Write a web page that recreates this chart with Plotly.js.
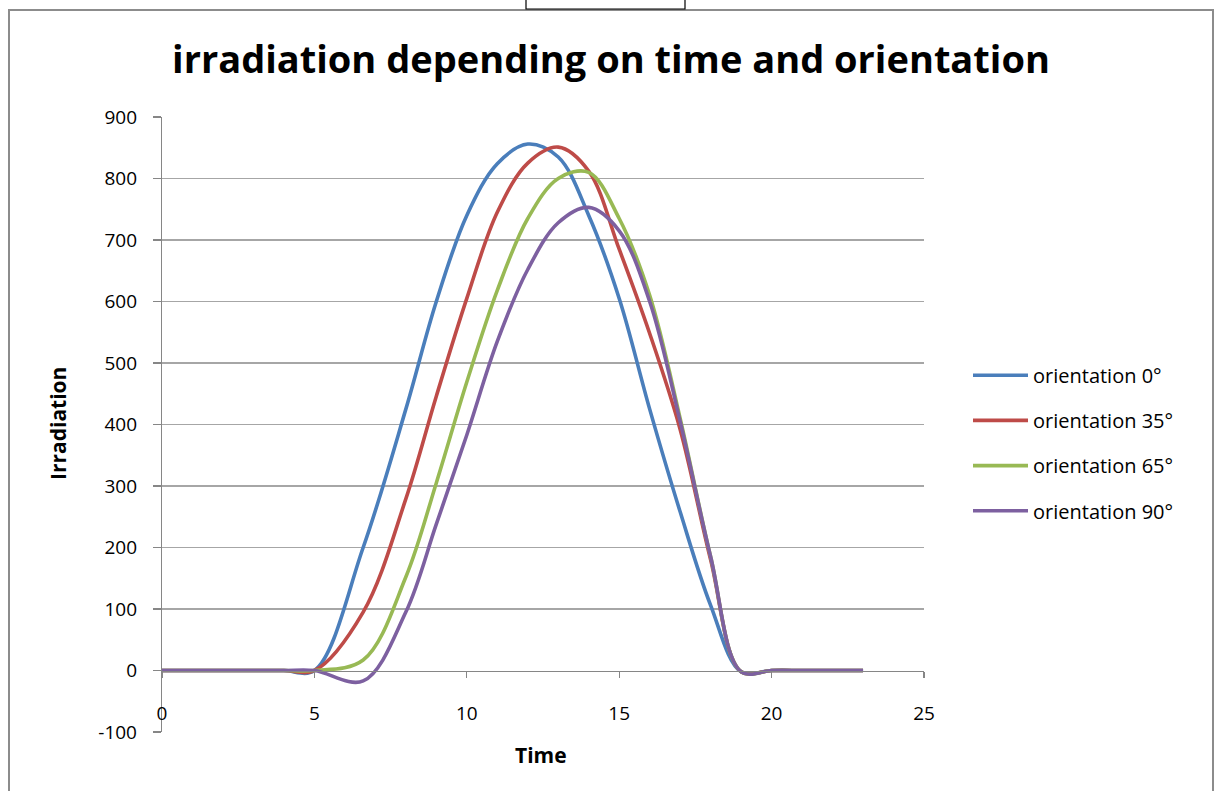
<!DOCTYPE html>
<html>
<head>
<meta charset="utf-8">
<script src="https://cdn.plot.ly/plotly-3.0.1.min.js"></script>
<style>html,body{margin:0;padding:0;background:#fff;}#chart{width:1215px;height:791px;}</style>
</head>
<body>
<div id="chart"></div>
<script>
// Time (hours) and irradiation for each orientation
const hours = [0, 1, 2, 3, 4, 5, 6.6, 8, 9, 10, 11, 12, 13, 14, 15, 16, 17, 18, 19, 20, 21, 22, 23];
const orient0  = [0, 0, 0, 0, 0, 0, 200, 425, 600, 740, 824, 856, 835, 740, 605, 425, 258, 106, -2, 0, 0, 0, 0];
const orient35 = [0, 0, 0, 0, 0, 0,  95, 279, 446, 605, 745, 825, 851, 812, 685, 548, 392, 180, -2, 0, 0, 0, 0];
const orient65 = [0, 0, 0, 0, 0, 0,  17, 152, 305, 469, 618, 735, 800, 810, 735, 610, 410, 185, -2, 0, 0, 0, 0];
const orient90 = [0, 0, 0, 0, 0, 0, -17,  95, 238, 383, 535, 652, 728, 753, 715, 600, 405, 185, -2, 0, 0, 0, 0];
const seriesNames = ["orientation 0°", "orientation 35°", "orientation 65°", "orientation 90°"];
const seriesColors = ["#4A7EBB", "#BE4B48", "#98B954", "#7D60A0"];
const yTicks = [-100, 0, 100, 200, 300, 400, 500, 600, 700, 800, 900];
const gridTicks = [100, 200, 300, 400, 500, 600, 700, 800, 900];
const xTicks = [0, 5, 10, 15, 20, 25];

const W = 1215, H = 791;
const M = {l: 162, r: 291, t: 117, b: 59};
const pw = W - M.l - M.r, ph = H - M.t - M.b;
const px = v => (v - M.l) / pw;
const py = v => (H - M.b - v) / ph;

const FONT = "Open Sans, Noto Sans, sans-serif";
const allSeries = [orient0, orient35, orient65, orient90];
const traces = allSeries.map((ys, i) => ({
  type: "scatter", mode: "lines",
  x: hours, y: ys, name: seriesNames[i],
  legendgroup: "g" + i,
  line: {color: seriesColors[i], width: 3.6, shape: "spline", smoothing: 1},
  hoverinfo: "skip"
}));
// invisible trace to activate grid axis
traces.push({type: "scatter", x: [0], y: [0], yaxis: "y2", mode: "markers",
  marker: {opacity: 0}, showlegend: false, hoverinfo: "skip"});

const layout = {
  width: W, height: H,
  margin: M,
  paper_bgcolor: "#ffffff", plot_bgcolor: "#ffffff",
  showlegend: true,
  title: {
    text: "<b>irradiation depending on time and orientation</b>",
    font: {family: FONT, size: 38, color: "#000000"},
    x: 611 / W, xanchor: "center", xref: "container",
    y: 1 - 60 / H, yanchor: "middle", yref: "container"
  },
  xaxis: {
    range: [0, 25], tickvals: xTicks, ticktext: xTicks.map(String),
    anchor: "free", position: 0.1,
    showline: true, linecolor: "#868686", linewidth: 1.2,
    ticks: "outside", ticklen: 6, tickcolor: "#868686", tickwidth: 1.2,
    showgrid: false, zeroline: false,
    ticklabelstandoff: 19,
    tickfont: {family: FONT, size: 19, color: "#000000"}
  },
  yaxis: {
    range: [-100, 900], tickvals: yTicks, ticktext: yTicks.map(String),
    showline: true, linecolor: "#868686", linewidth: 1.2,
    ticks: "outside", ticklen: 8, tickcolor: "#868686", tickwidth: 1.2,
    showgrid: false, zeroline: false,
    ticklabelstandoff: 12,
    tickfont: {family: FONT, size: 19, color: "#000000"}
  },
  yaxis2: {
    range: [-100, 900], overlaying: "y", side: "left",
    tickvals: gridTicks, showticklabels: false, ticks: "",
    showgrid: true, gridcolor: "#a6a6a6", gridwidth: 1.2,
    zeroline: false, showline: false
  },
  legend: {
    x: px(968), y: py(376) + 0.033, xanchor: "left", yanchor: "top",
    font: {family: FONT, size: 20, color: "#000000"},
    itemwidth: 55, tracegroupgap: 16.2,
    bgcolor: "rgba(0,0,0,0)", borderwidth: 0
  },
  annotations: [
    {text: "<b>Irradiation</b>", xref: "paper", yref: "paper", x: px(58), y: py(424),
     xanchor: "center", yanchor: "middle", textangle: -90, showarrow: false,
     font: {family: FONT, size: 21, color: "#000000"}},
    {text: "<b>Time</b>", xref: "paper", yref: "paper", x: px(541), y: py(755),
     xanchor: "center", yanchor: "middle", showarrow: false,
     font: {family: FONT, size: 21, color: "#000000"}}
  ],
  shapes: [
    {type: "rect", xref: "paper", yref: "paper", x0: px(9), x1: px(1213), y0: py(800), y1: py(10),
     line: {color: "#8c8c8c", width: 2}, fillcolor: "rgba(0,0,0,0)", layer: "below"},
    {type: "rect", xref: "paper", yref: "paper", x0: px(526), x1: px(685), y0: py(9), y1: py(-5),
     line: {color: "#000000", width: 1.2}, fillcolor: "#ffffff", layer: "above"}
  ]
};

Plotly.newPlot("chart", traces, layout, {displayModeBar: false, staticPlot: true});
</script>
</body>
</html>
